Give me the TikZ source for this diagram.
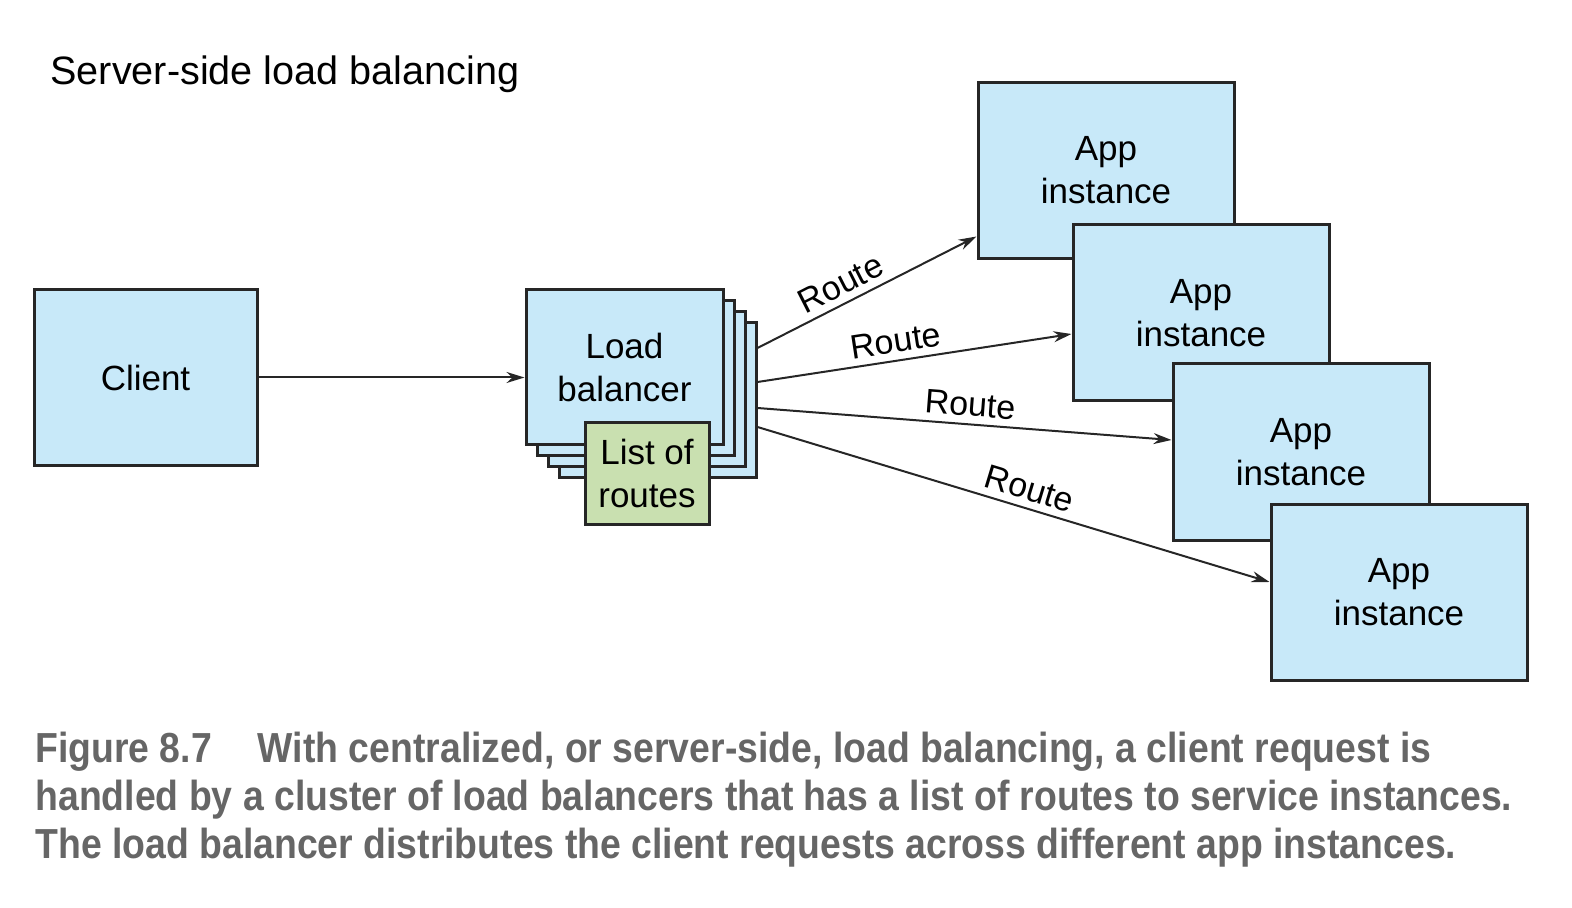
\documentclass[tikz,border=0pt]{standalone}
\usepackage{fontspec}
\setmainfont{Liberation Sans}
\newfontfamily\capfont[FakeStretch=0.89]{Liberation Sans}
\usetikzlibrary{arrows.meta,positioning,calc}
\definecolor{appblue}{RGB}{200,233,249}
\definecolor{listgreen}{RGB}{201,224,176}
\definecolor{capgray}{RGB}{102,102,102}
\tikzset{
  box/.style={draw=black!85, line width=1.5pt, fill=appblue, align=center, inner sep=0pt, font=\fontsize{17.5}{21.5}\selectfont},
  lbbox/.style={box, minimum width=98.5pt, minimum height=77.5pt},
  app/.style={box, minimum width=128pt, minimum height=88pt},
  route/.style={-{Stealth[length=9pt,width=5.5pt]}, line width=1pt, draw=black!85},
  rlabel/.style={sloped, above, inner sep=3.5pt, font=\fontsize{17}{20}\selectfont},
  caption/.style={anchor=base west, inner sep=0pt, text=capgray, font=\capfont\bfseries\fontsize{21}{24}\selectfont},
}

\begin{document}
\begin{tikzpicture}[x=0.5pt, y=-0.5pt]
  \useasboundingbox (0,0) rectangle (1572,908);
  \node[anchor=base west, inner sep=0pt, font=\fontsize{19.8}{24}\selectfont] (title) at (50,85) {Server-side load balancing};

  \node[box, minimum width=111.5pt, minimum height=87.5pt] (client) at (145.5,377.5) {Client};
  \foreach \i in {3,2,1}
    \node[lbbox] (lb\i) at (624.5+11*\i, 367+11*\i) {};
  \node[lbbox] (lb) at (624.5,367) {Load\\balancer};
  \node[box, fill=listgreen, minimum width=62pt, minimum height=50.5pt] (list) at (647,473.5) {List of\\routes};

  \node[app] (app1) at (1106,170.5) {App\\instance};
  \node[app] (app2) at (1201,313) {App\\instance};
  \node[app] (app3) at (1301,452) {App\\instance};
  \node[app] (app4) at (1399,592) {App\\instance};

  \draw[route] (client.east) -- (client.east -| lb.west);
  \draw[route] ([yshift=26pt]lb3.east) -- node[rlabel, pos=.42] {Route} ([yshift=-33pt]app1.west);
  \draw[route] ([yshift=9pt]lb3.east) -- node[rlabel, pos=.45] {Route} ([yshift=-10.5pt]app2.west);
  \draw[route] ([yshift=-4pt]lb3.east) -- node[rlabel, pos=.51] {Route} ([yshift=6pt]app3.west);
  \draw[route] ([yshift=-13.5pt]lb3.east) -- node[rlabel, pos=.52] {Route} ([yshift=5pt]app4.west);

  \node[caption] (cap1) at (35,762) {Figure 8.7\hspace{23pt}With centralized, or server-side, load balancing, a client request is};
  \node[caption] (cap2) at (35,810) {handled by a cluster of load balancers that has a list of routes to service instances.};
  \node[caption] (cap3) at (35,858) {The load balancer distributes the client requests across different app instances.};
\end{tikzpicture}
\end{document}
